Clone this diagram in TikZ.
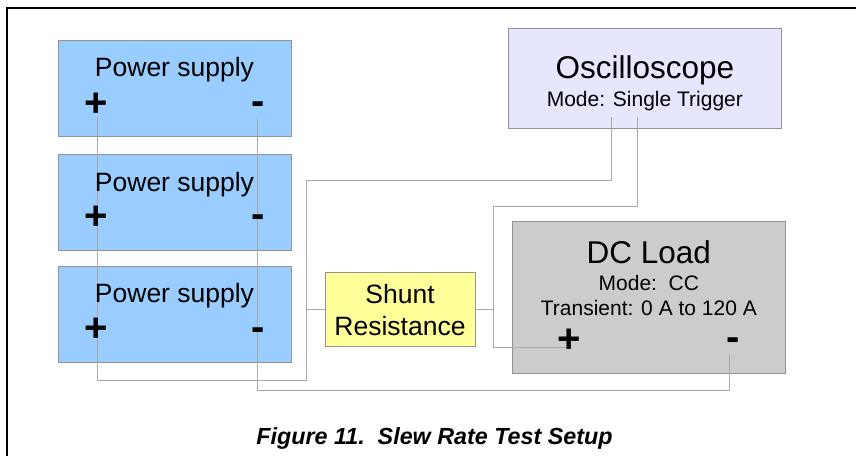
\documentclass[tikz,border=0pt]{standalone}
\usepackage{fontspec}
\setmainfont{Liberation Sans}
\usetikzlibrary{positioning}
\definecolor{psblue}{HTML}{99CCFF}
\definecolor{scopeblue}{HTML}{E6E6FF}
\definecolor{loadgray}{HTML}{CCCCCC}
\definecolor{shuntyellow}{HTML}{FFFF99}
\definecolor{boxgray}{HTML}{939393}
\definecolor{wiregray}{HTML}{A8A8A8}
\tikzset{
    unitbox/.style = {
        rectangle,
        draw=boxgray,
        line width=1pt,
        inner sep=0pt,
        outer sep=0pt
    },
    psbox/.style = {
        unitbox,
        fill=psblue,
        minimum width=232.3pt,
        minimum height=96.4pt
    },
    scopebox/.style = {
        unitbox,
        fill=scopeblue,
        minimum width=272.3pt,
        minimum height=100pt
    },
    loadbox/.style = {
        unitbox,
        fill=loadgray,
        minimum width=272.3pt,
        minimum height=151.6pt
    },
    shuntbox/.style = {
        unitbox,
        fill=shuntyellow,
        minimum width=150pt,
        minimum height=74.4pt
    },
    bigtext/.style = {
        anchor=base,
        inner sep=0pt,
        font=\fontsize{31.5}{36}\selectfont
    },
    midtext/.style = {
        anchor=base,
        inner sep=0pt,
        font=\fontsize{26.5}{30}\selectfont
    },
    smalltext/.style = {
        anchor=base,
        inner sep=0pt,
        font=\fontsize{21}{24}\selectfont
    },
    terminal/.style = {
        inner sep=0pt,
        font=\fontsize{40}{44}\bfseries\selectfont
    },
    wire/.style = {
        draw=wiregray,
        line width=0.9pt
    }
}
\begin{document}
\begin{tikzpicture}[x=1pt, y=-1pt]
    \useasboundingbox (0,0) rectangle (856,456);
    % frame
    \draw[line width=1.5pt] (856,8) -- (7,8) -- (7,456);

    % boxes
    \node [psbox] (ps1) at (174.85,88.5) {};
    \node [psbox] (ps2) at (174.85,202.5) {};
    \node [psbox] (ps3) at (174.85,314.5) {};
    \node [scopebox] (scope) at (644.85,78.3) {};
    \node [loadbox] (load) at (648.85,297.5) {};
    \node [shuntbox] (shunt) at (400,309.5) {};

    % wire ends
    \coordinate (p1t) at (97,117);
    \coordinate (m1t) at (257,118);
    \coordinate (scA) at (611,116.7);
    \coordinate (scB) at (637.3,117);
    \coordinate (dcP) at (569,347);
    \coordinate (dcM) at (729.3,355);
    \coordinate (jleft) at (306.7,309.5);
    \coordinate (jright) at (493,309.5);

    % wires
    \draw [wire] (p1t) -- (97,380.3) -- (306.7,380.3) -- (jleft)
        -- (306.7,180.7) -- (611,180.7) -- (scA);
    \draw [wire] (jleft) -- (shunt.west);
    \draw [wire] (shunt.east) -- (jright);
    \draw [wire] (jright) -- (493,347) -- (dcP);
    \draw [wire] (jright) -- (493,206.7) -- (637.3,206.7) -- (scB);
    \draw [wire] (m1t) -- (257,390.7) -- (729.3,390.7) -- (dcM);

    % labels
    \node [midtext] (ps1t) at (174.5,76.7) {Power supply};
    \node [midtext] (ps2t) at (174.5,191.7) {Power supply};
    \node [midtext] (ps3t) at (174.5,302.7) {Power supply};
    \node [terminal] (p1) at (96,104.5) {+};
    \node [terminal] (m1) at (258.5,108.3) {-};
    \node [terminal] (p2) at (96,217.5) {+};
    \node [terminal] (m2) at (258.5,221.5) {-};
    \node [terminal] (p3) at (96,329.5) {+};
    \node [terminal] (m3) at (258.5,334.3) {-};

    \node [bigtext] (scopet) at (644.85,78.3) {Oscilloscope};
    \node [smalltext] (scopem) at (644.85,106) {Mode: Single Trigger};

    \node [bigtext] (loadt) at (648.85,263.3) {DC Load};
    \node [smalltext] (loadm) at (648.85,290) {Mode:\ \ CC};
    \node [smalltext] (loadr) at (648.85,315) {Transient: 0 A to 120 A};
    \node [terminal] (dcp) at (569.3,340.5) {+};
    \node [terminal] (dcm) at (733,344.5) {-};

    \node [midtext] (shuntt) at (400,303.3) {Shunt};
    \node [midtext] (shuntr) at (400,335) {Resistance};

    \node [anchor=base, inner sep=0pt, font=\fontsize{23.3}{26}\bfseries\itshape\selectfont]
        (caption) at (434.5,444) {Figure 11.\ \ Slew Rate Test Setup};
\end{tikzpicture}
\end{document}
